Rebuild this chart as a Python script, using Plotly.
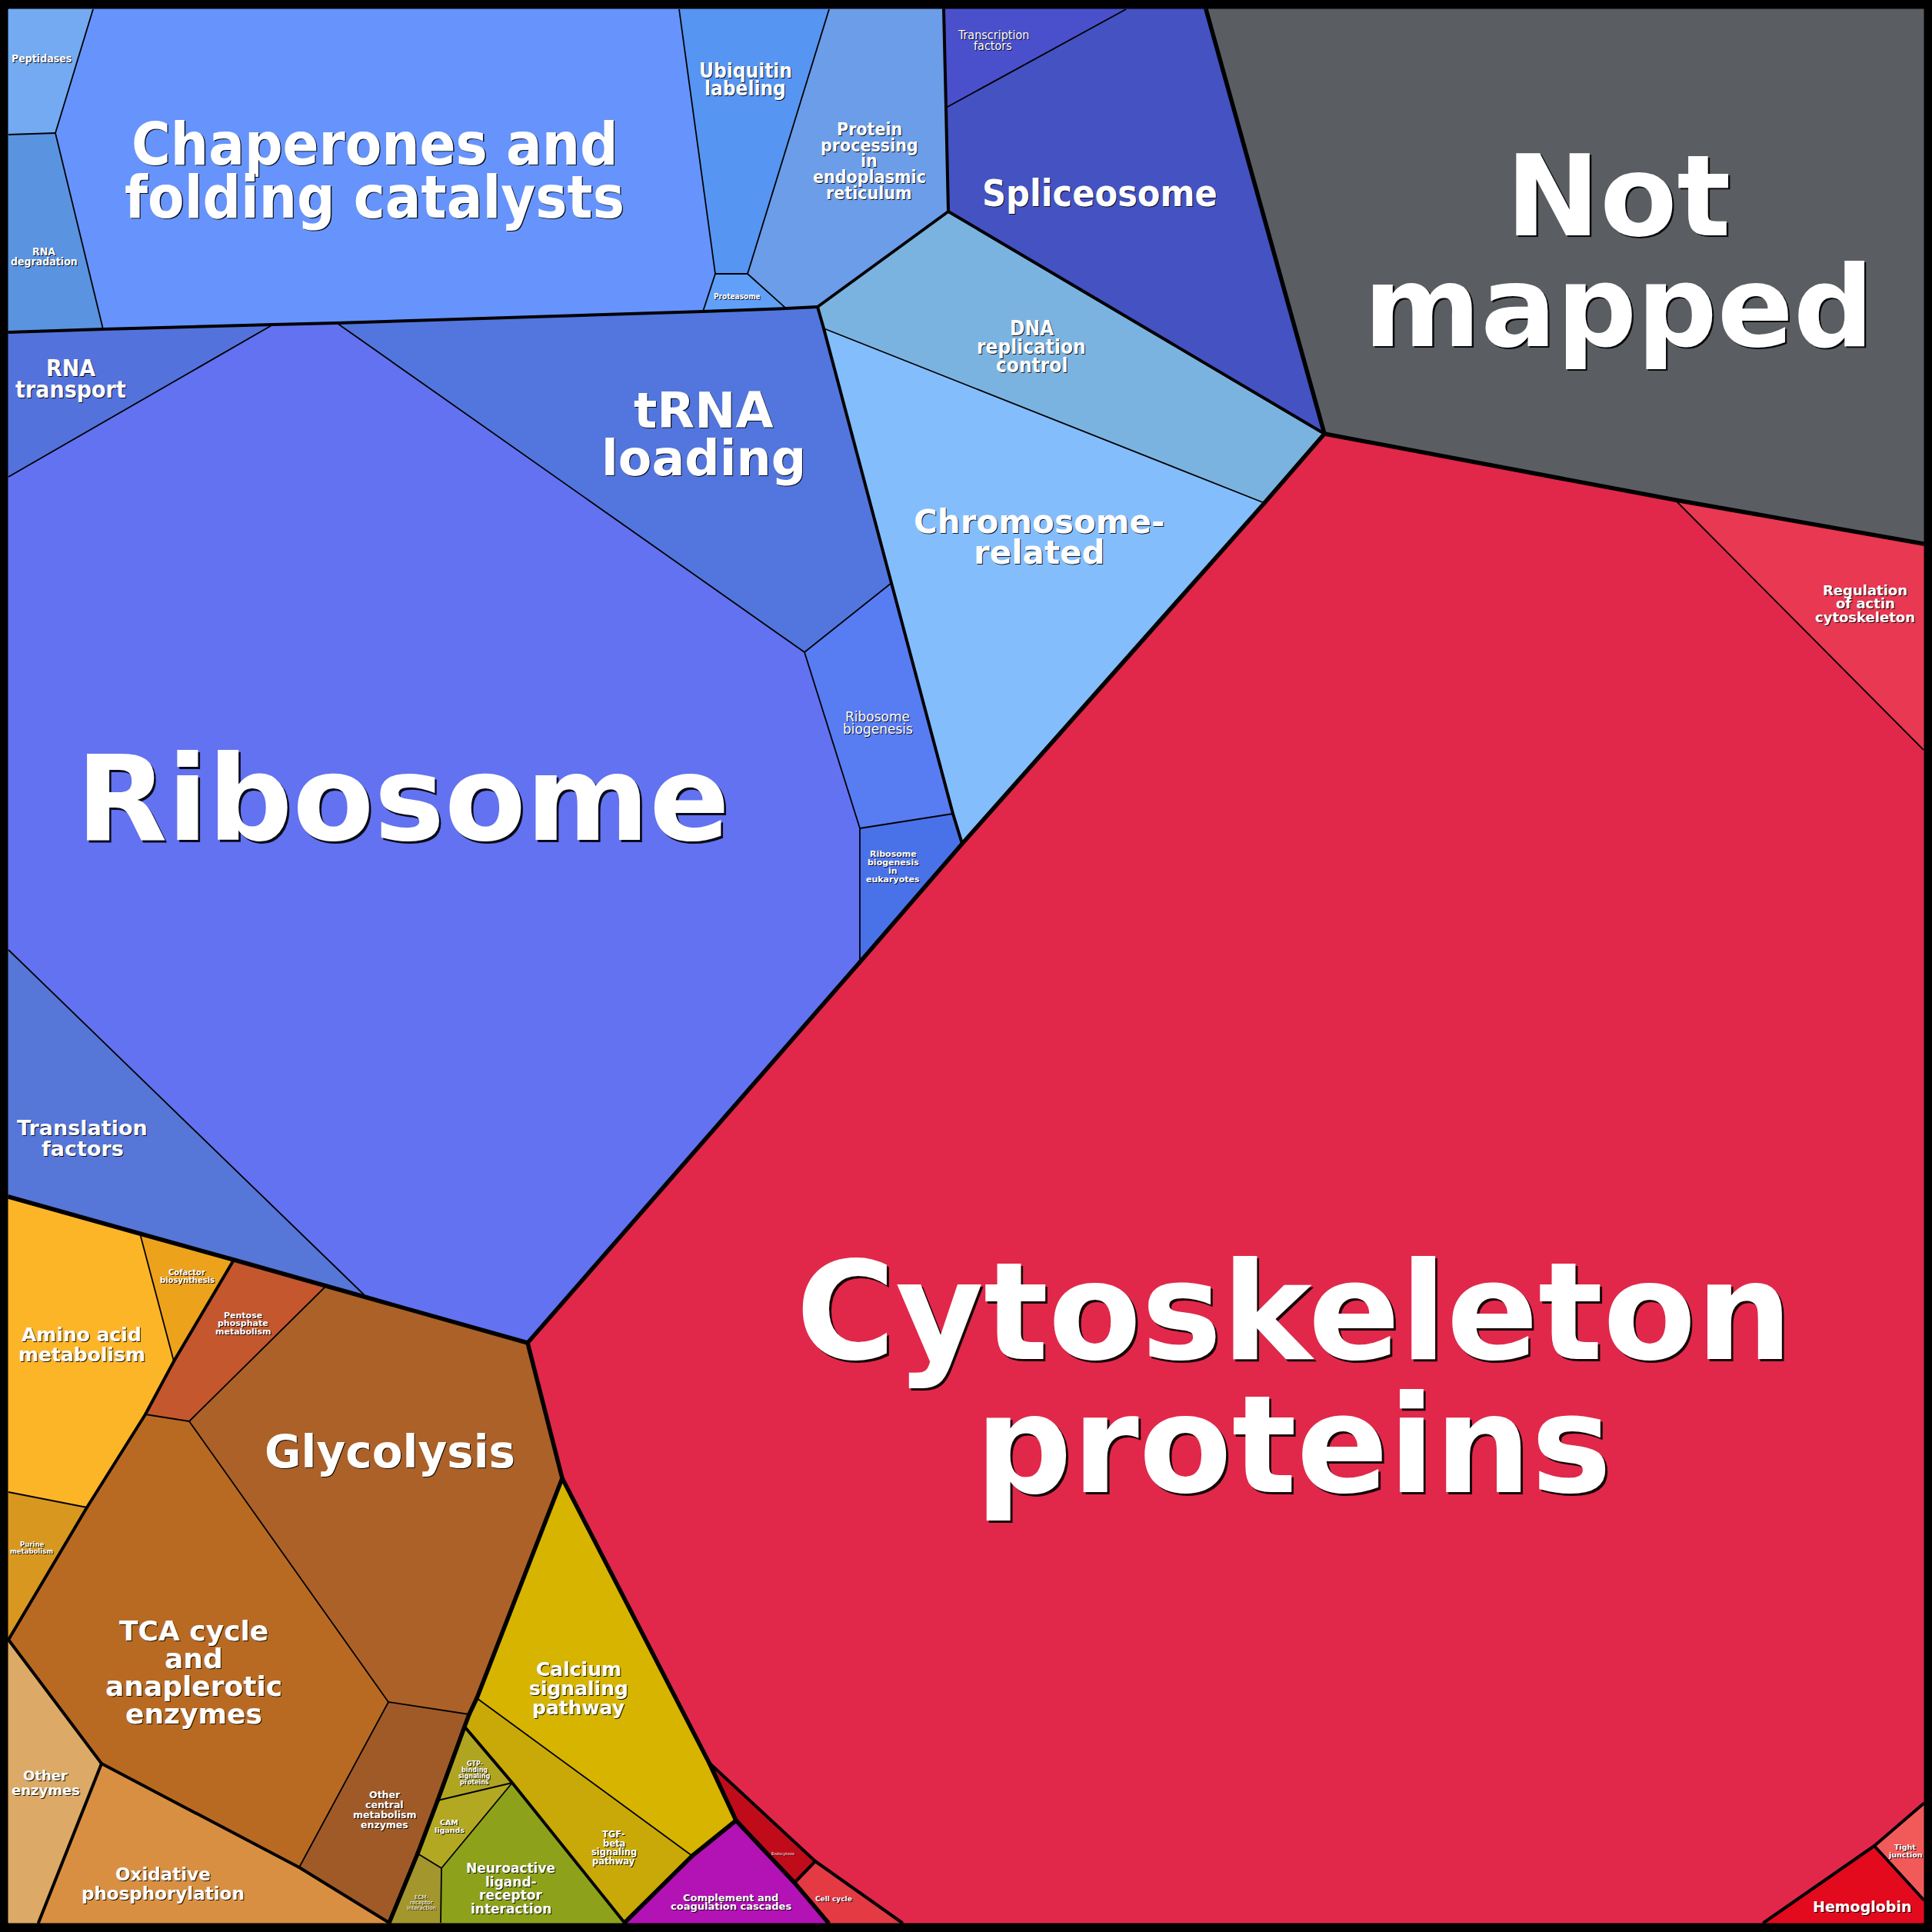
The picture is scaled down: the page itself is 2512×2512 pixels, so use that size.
import plotly.graph_objects as go

# ---------------- Data: categories, hierarchy, colours ----------------
CELLS = [
    "Not mapped", "Cytoskeleton proteins", "Regulation of actin cytoskeleton", "Endocytosis",
    "Cell cycle", "Tight junction", "Hemoglobin",
    "Peptidases", "Chaperones and folding catalysts", "RNA degradation", "Ubiquitin labeling",
    "Proteasome", "Protein processing in endoplasmic reticulum", "Transcription factors",
    "Spliceosome", "DNA replication control", "Chromosome-related", "tRNA loading", "Ribosome",
    "Ribosome biogenesis", "Ribosome biogenesis in eukaryotes", "RNA transport", "Translation factors",
    "Amino acid metabolism", "Cofactor biosynthesis", "Purine metabolism", "Pentose phosphate metabolism",
    "Glycolysis", "TCA cycle and anaplerotic enzymes", "Other central metabolism enzymes",
    "Oxidative phosphorylation", "Other enzymes",
    "Calcium signaling pathway", "TGF-beta signaling pathway", "GTP-binding signaling proteins",
    "CAM ligands", "ECM-receptor interaction", "Neuroactive ligand-receptor interaction",
    "Complement and coagulation cascades",
]
GROUP = [
    "NM", "Cell", "Cell", "Cell", "Cell", "Cell", "Cell",
    "Gen", "Gen", "Gen", "Gen", "Gen", "Gen", "Gen", "Gen", "Gen", "Gen", "Gen", "Gen", "Gen", "Gen", "Gen", "Gen",
    "Met", "Met", "Met", "Met", "Met", "Met", "Met", "Met", "Met",
    "Sig", "Sig", "Sig", "Sig", "Sig", "Sig",
    "Org",
]
SUBGROUP = [
    "NM", "Cyto", "Cyto", "Transport", "Growth", "Community", "Hemo",
    "Fold", "Fold", "Fold", "Fold", "Fold", "Fold", "Transc", "Transc", "Rep", "Rep",
    "Transl", "Transl", "Transl", "Transl", "Transl", "Transl",
    "AA", "AA", "AA", "Carb", "Carb", "Carb", "Carb", "Energy", "Other",
    "ST", "ST", "SM", "SM", "SM", "SM",
    "Org",
]
COLORS = [
    "#5a5e63", "#e1284a", "#e83852", "#c00c1a", "#e43a44", "#f25a5a", "#e30a1e",
    "#73aaf2", "#6694fc", "#5a94e0", "#5695f2", "#60a0f8", "#6b9de8", "#4a50cc",
    "#4452c2", "#7bb3e0", "#84bdfb", "#5276dd", "#6272f0", "#587cf2", "#4a72e8", "#5472dc", "#5676d8",
    "#fdb528", "#eda21c", "#d8981f", "#c4572e", "#ab6128", "#b96a22", "#a05a28", "#d98f41", "#dcaa66",
    "#d6b400", "#c9a908", "#b0a521", "#b3a822", "#a3962c", "#8da21a",
    "#b312b5",
]

# ---------------- Cell geometry (Voronoi cell corners) ----------------
V = {
    'c_tl': (11, 12), 'c_tr': (2501, 12), 'c_br': (2501, 2500), 'c_bl': (11, 2500),
    't1': (121, 12), 't2': (883, 12), 't3': (1078, 12), 't4': (1227, 12), 't5': (1464, 12), 't6': (1568, 12),
    'l1': (11, 175), 'l2': (11, 432), 'l3': (11, 620), 'l4': (11, 1235), 'l5': (11, 1556),
    'l6': (11, 1940), 'l7': (11, 2132),
    'r1': (2501, 707), 'r2': (2501, 975), 'r3': (2501, 2345), 'r4': (2501, 2470),
    'b1': (50, 2500), 'b2': (506, 2500), 'b3': (573, 2500), 'b4': (812, 2500), 'b5': (1077, 2500),
    'b6': (1173, 2500), 'b7': (2293, 2500),
    'p1': (72, 173), 'a1': (134, 428), 'a2': (355, 422), 'a3': (438, 420), 'a4': (914, 405),
    'a5': (1022, 401), 'a6': (1063, 399), 'u1': (930, 356), 'u2': (972, 356),
    'tf1': (1230, 140), 'sp1': (1233, 275), 'nm1': (1722, 564), 'dn1': (1071, 427), 'dn2': (1644, 654),
    'tr1': (1159, 758), 'rb1': (1046, 848), 'rb2': (1118, 1077), 'rb3': (1239, 1058), 'rb4': (1251, 1097),
    'rb5': (1118, 1251), 'ra1': (2178, 650),
    'm0': (686, 1746), 'm1': (477, 1687), 'm2': (424, 1672), 'm3': (304, 1638), 'm4': (182, 1604),
    'm5': (226, 1770), 'm6': (189, 1839), 'm7': (246, 1848), 'm8': (113, 1960), 'm9': (505, 2213),
    'm10': (389, 2428), 'm11': (132, 2293),
    'g1': (731, 1922), 'g2': (620, 2208), 'g3': (610, 2229), 'g4': (604, 2245), 'g5': (569, 2341),
    'g6': (543, 2410), 's1': (666, 2318), 's2': (574, 2429),
    'cc1': (922, 2292), 'cc2': (957, 2367), 'cc3': (900, 2413), 'e1': (1060, 2420), 'e2': (1033, 2448),
    'h1': (2437, 2400),
}
POLY = {
    "Not mapped": ['t6', 'c_tr', 'r1', 'ra1', 'nm1'],
    "Cytoskeleton proteins": ['nm1', 'ra1', 'r2', 'r3', 'h1', 'b7', 'b6', 'e1', 'cc1', 'g1', 'm0', 'rb5', 'rb4', 'dn2'],
    "Regulation of actin cytoskeleton": ['ra1', 'r1', 'r2'],
    "Endocytosis": ['cc1', 'e1', 'e2', 'cc2'],
    "Cell cycle": ['e1', 'b6', 'b5', 'e2'],
    "Tight junction": ['h1', 'r3', 'r4'],
    "Hemoglobin": ['b7', 'h1', 'r4', 'c_br'],
    "Peptidases": ['c_tl', 't1', 'p1', 'l1'],
    "Chaperones and folding catalysts": ['t1', 't2', 'u1', 'a4', 'a3', 'a2', 'a1', 'p1'],
    "RNA degradation": ['l1', 'p1', 'a1', 'l2'],
    "Ubiquitin labeling": ['t2', 't3', 'u2', 'u1'],
    "Proteasome": ['u1', 'u2', 'a5', 'a4'],
    "Protein processing in endoplasmic reticulum": ['t3', 't4', 'tf1', 'sp1', 'a6', 'a5', 'u2'],
    "Transcription factors": ['t4', 't5', 'tf1'],
    "Spliceosome": ['tf1', 't5', 't6', 'nm1', 'sp1'],
    "DNA replication control": ['a6', 'sp1', 'nm1', 'dn2', 'dn1'],
    "Chromosome-related": ['dn1', 'dn2', 'rb4', 'rb3', 'tr1'],
    "tRNA loading": ['a3', 'a4', 'a5', 'a6', 'dn1', 'tr1', 'rb1'],
    "Ribosome": ['l3', 'a2', 'a3', 'rb1', 'rb2', 'rb5', 'm0', 'm1', 'l4'],
    "Ribosome biogenesis": ['rb1', 'tr1', 'rb3', 'rb2'],
    "Ribosome biogenesis in eukaryotes": ['rb2', 'rb3', 'rb4', 'rb5'],
    "RNA transport": ['l2', 'a1', 'a2', 'l3'],
    "Translation factors": ['l4', 'm1', 'm2', 'm3', 'm4', 'l5'],
    "Amino acid metabolism": ['l5', 'm4', 'm5', 'm6', 'm8', 'l6'],
    "Cofactor biosynthesis": ['m4', 'm3', 'm5'],
    "Purine metabolism": ['l6', 'm8', 'l7'],
    "Pentose phosphate metabolism": ['m3', 'm2', 'm7', 'm6', 'm5'],
    "Glycolysis": ['m2', 'm1', 'm0', 'g1', 'g2', 'g3', 'm9', 'm7'],
    "TCA cycle and anaplerotic enzymes": ['l7', 'm8', 'm6', 'm7', 'm9', 'm10', 'm11'],
    "Other central metabolism enzymes": ['m9', 'g3', 'g4', 'g5', 'g6', 'b2', 'm10'],
    "Oxidative phosphorylation": ['m11', 'm10', 'b2', 'b1'],
    "Other enzymes": ['l7', 'm11', 'b1', 'c_bl'],
    "Calcium signaling pathway": ['g1', 'cc1', 'cc2', 'cc3', 'g2'],
    "TGF-beta signaling pathway": ['g2', 'cc3', 'b4', 's1', 'g4', 'g3'],
    "GTP-binding signaling proteins": ['g4', 's1', 'g5'],
    "CAM ligands": ['g5', 's1', 's2', 'g6'],
    "ECM-receptor interaction": ['g6', 's2', 'b3', 'b2'],
    "Neuroactive ligand-receptor interaction": ['s1', 'b4', 'b3', 's2'],
    "Complement and coagulation cascades": ['cc2', 'e2', 'b5', 'b4', 'cc3'],
}

# ---------------- Label layout (text, centre x, first-line y, line pitch, size, condensed, bold) ----------------
LABELS = [
    ("Not\nmapped", 2104, 255, 144, 146, False, True),
    ("Cytoskeleton\nproteins", 1682, 1706, 173, 176, False, True),
    ("Ribosome", 524, 1038, 0, 154, False, True),
    ("Chaperones and\nfolding catalysts", 487, 187, 69, 77, True, True),
    ("tRNA\nloading", 915, 534, 62, 63.5, False, True),
    ("Spliceosome", 1430, 251, 0, 48, True, True),
    ("Chromosome-\nrelated", 1351, 678, 40, 42, False, True),
    ("DNA\nreplication\ncontrol", 1341, 427, 24, 26, True, True),
    ("Ubiquitin\nlabeling", 969, 92, 23, 26, True, True),
    ("Protein\nprocessing\nin\nendoplasmic\nreticulum", 1130, 168, 20.7, 23, True, True),
    ("Transcription\nfactors", 1291, 45, 14, 16, True, False),
    ("Proteasome", 958, 385, 0, 10, True, True),
    ("Peptidases", 54, 76, 0, 14, True, True),
    ("RNA\ndegradation", 57, 327, 12.5, 14, True, True),
    ("RNA\ntransport", 92, 478, 28, 30, True, True),
    ("Ribosome\nbiogenesis", 1141, 932, 16, 17, False, False),
    ("Ribosome\nbiogenesis\nin\neukaryotes", 1161, 1110, 11.3, 11, False, True),
    ("Translation\nfactors", 107, 1466, 27, 27, False, True),
    ("Regulation\nof actin\ncytoskeleton", 2425, 767, 17.5, 18, False, True),
    ("Amino acid\nmetabolism", 106, 1735, 26, 25, False, True),
    ("Cofactor\nbiosynthesis", 243, 1654, 10, 10, False, True),
    ("Pentose\nphosphate\nmetabolism", 316, 1710, 10.5, 11, False, True),
    ("Glycolysis", 507, 1888, 0, 58, False, True),
    ("Purine\nmetabolism", 41, 2008, 9, 8.5, False, True),
    ("TCA cycle\nand\nanaplerotic\nenzymes", 252, 2120, 36, 36, False, True),
    ("Other\nenzymes", 59, 2308, 19, 18, False, True),
    ("Oxidative\nphosphorylation", 212, 2437, 25, 23, False, True),
    ("Other\ncentral\nmetabolism\nenzymes", 500, 2333, 13, 12.5, False, True),
    ("Calcium\nsignaling\npathway", 752, 2170, 25, 25, False, True),
    ("TGF-\nbeta\nsignaling\npathway", 798, 2385, 11.5, 11.5, False, True),
    ("GTP-\nbinding\nsignaling\nproteins", 617, 2293, 8, 8, False, True),
    ("CAM\nligands", 584, 2369, 10, 9.5, False, True),
    ("ECM-\nreceptor\ninteraction", 548, 2467, 7, 7, False, False),
    ("Neuroactive\nligand-\nreceptor\ninteraction", 664, 2429, 17.7, 17, False, True),
    ("Complement and\ncoagulation cascades", 950, 2467, 11, 13, False, True),
    ("Endocytosis", 1018, 2410, 0, 5, False, False),
    ("Cell cycle", 1084, 2469, 0, 9, False, True),
    ("Hemoglobin", 2421, 2479, 0, 19, False, True),
    ("Tight\njunction", 2477, 2401, 10, 9.5, False, True),
]

W, H = 2512, 2512
PAGE_OFFSET = 8  # the page body margin shifts the figure; compensate in the axis ranges
WIDTH_BY_LEVEL = [5.5, 4.0, 1.8]

fig = go.Figure()

# ---- cell fills ----
for name, col in zip(CELLS, COLORS):
    pts = [V[k] for k in POLY[name]]
    xs = [p[0] for p in pts] + [pts[0][0]]
    ys = [p[1] for p in pts] + [pts[0][1]]
    fig.add_trace(go.Scatter(x=xs, y=ys, mode="lines", fill="toself", fillcolor=col,
                             line=dict(color=col, width=1), hoverinfo="text", text=name,
                             showlegend=False))

# ---- boundaries: split edges at T-junctions, then classify by hierarchy ----
def split_poly(ids):
    out = []
    n = len(ids)
    for i in range(n):
        a, b = ids[i], ids[(i + 1) % n]
        ax, ay = V[a]; bx, by = V[b]
        dx, dy = bx - ax, by - ay
        L2 = dx * dx + dy * dy
        mids = []
        for k, (px, py) in V.items():
            if k in (a, b):
                continue
            t = ((px - ax) * dx + (py - ay) * dy) / L2
            if 0.005 < t < 0.995:
                qx, qy = ax + t * dx, ay + t * dy
                if (px - qx) ** 2 + (py - qy) ** 2 < 3.0 ** 2:
                    mids.append((t, k))
        mids.sort()
        out.append(a)
        out.extend(k for _, k in mids)
    return out

edges = {}
for idx, name in enumerate(CELLS):
    ids = split_poly(POLY[name])
    n = len(ids)
    for i in range(n):
        a, b = ids[i], ids[(i + 1) % n]
        key = tuple(sorted((a, b)))
        edges.setdefault(key, []).append(idx)

def on_frame(k):
    x, y = V[k]
    return x <= 12 or x >= 2500 or y <= 13 or y >= 2499

segs = {w: ([], []) for w in WIDTH_BY_LEVEL}
vert_w = {}
for (a, b), owners in edges.items():
    if len(owners) >= 2:
        i, j = owners[0], owners[1]
        if GROUP[i] != GROUP[j]:
            w = WIDTH_BY_LEVEL[0]
        elif SUBGROUP[i] != SUBGROUP[j]:
            w = WIDTH_BY_LEVEL[1]
        else:
            w = WIDTH_BY_LEVEL[2]
    else:
        if on_frame(a) and on_frame(b):
            continue
        w = WIDTH_BY_LEVEL[2]
    xs, ys = segs[w]
    xs += [V[a][0], V[b][0], None]
    ys += [V[a][1], V[b][1], None]
    for k in (a, b):
        vert_w[k] = max(vert_w.get(k, 0), w)

for w in sorted(segs):
    xs, ys = segs[w]
    if xs:
        fig.add_trace(go.Scatter(x=xs, y=ys, mode="lines", line=dict(color="black", width=w),
                                 hoverinfo="skip", showlegend=False))

vk = [k for k in vert_w if vert_w[k] > 2]
fig.add_trace(go.Scatter(x=[V[k][0] for k in vk], y=[V[k][1] for k in vk], mode="markers",
                         marker=dict(color="black", size=[vert_w[k] for k in vk], line=dict(width=0)),
                         hoverinfo="skip", showlegend=False))

# ---- labels ----
annotations = []
for text, cx, y0, pitch, size, cond, bold in LABELS:
    fam = "DejaVu Sans Condensed, DejaVu Sans" if cond else "DejaVu Sans"
    off = max(1.0, round(size / 60, 1))
    shadow = f"{off}px {off}px 0.5px rgba(0,0,0,0.9)"
    for i, line in enumerate(text.split("\n")):
        annotations.append(dict(
            x=cx, y=y0 + i * pitch, xref="x", yref="y", text=line, showarrow=False,
            xanchor="center", yanchor="middle",
            font=dict(family=fam, size=size, color="white", weight="bold" if bold else "normal",
                      shadow=shadow),
        ))

fig.update_layout(
    width=W, height=H, margin=dict(l=0, r=0, t=0, b=0),
    paper_bgcolor="black", plot_bgcolor="black",
    xaxis=dict(range=[PAGE_OFFSET, W + PAGE_OFFSET], visible=False, fixedrange=True),
    yaxis=dict(range=[H + PAGE_OFFSET, PAGE_OFFSET], visible=False, fixedrange=True),
    annotations=annotations, showlegend=False,
)

fig.write_html("out.html", post_script="document.body.style.background='black';")
